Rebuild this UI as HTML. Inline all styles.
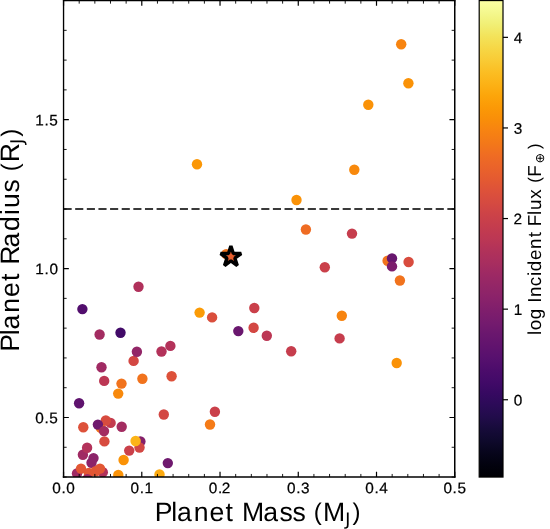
<!DOCTYPE html>
<html><head><meta charset="utf-8"><title>Planet Mass vs Radius</title>
<style>
html,body{margin:0;padding:0;background:#fff;}
body{width:550px;height:529px;overflow:hidden;font-family:"Liberation Sans",sans-serif;}
svg{display:block;will-change:transform;}
text{font-family:"Liberation Sans",sans-serif;fill:#000;text-rendering:geometricPrecision;}
</style></head><body>
<svg width="550" height="529" viewBox="0 0 550 529" role="img" aria-label="Planet radius versus planet mass scatter plot coloured by log incident flux">
<rect x="0" y="0" width="550" height="529" fill="#ffffff"/>
<defs>
<clipPath id="ax"><rect x="63.55" y="0.55" width="391.20" height="476.50"/></clipPath>
<linearGradient id="inf" x1="0" y1="1" x2="0" y2="0">
<stop offset="0.0000" stop-color="#000004"/>
<stop offset="0.0250" stop-color="#02020e"/>
<stop offset="0.0500" stop-color="#07051b"/>
<stop offset="0.0750" stop-color="#0e092b"/>
<stop offset="0.1000" stop-color="#160b39"/>
<stop offset="0.1250" stop-color="#210c4a"/>
<stop offset="0.1500" stop-color="#2b0b57"/>
<stop offset="0.1750" stop-color="#360961"/>
<stop offset="0.2000" stop-color="#420a68"/>
<stop offset="0.2250" stop-color="#4c0c6b"/>
<stop offset="0.2500" stop-color="#57106e"/>
<stop offset="0.2750" stop-color="#61136e"/>
<stop offset="0.3000" stop-color="#6a176e"/>
<stop offset="0.3250" stop-color="#751b6e"/>
<stop offset="0.3500" stop-color="#7f1e6c"/>
<stop offset="0.3750" stop-color="#8a226a"/>
<stop offset="0.4000" stop-color="#932667"/>
<stop offset="0.4250" stop-color="#9d2964"/>
<stop offset="0.4500" stop-color="#a82e5f"/>
<stop offset="0.4750" stop-color="#b1325a"/>
<stop offset="0.5000" stop-color="#bc3754"/>
<stop offset="0.5250" stop-color="#c43c4e"/>
<stop offset="0.5500" stop-color="#cc4248"/>
<stop offset="0.5750" stop-color="#d54a41"/>
<stop offset="0.6000" stop-color="#dd513a"/>
<stop offset="0.6250" stop-color="#e45a31"/>
<stop offset="0.6500" stop-color="#ea632a"/>
<stop offset="0.6750" stop-color="#ef6c23"/>
<stop offset="0.7000" stop-color="#f37819"/>
<stop offset="0.7250" stop-color="#f78212"/>
<stop offset="0.7500" stop-color="#f98e09"/>
<stop offset="0.7750" stop-color="#fb9906"/>
<stop offset="0.8000" stop-color="#fca50a"/>
<stop offset="0.8250" stop-color="#fcb216"/>
<stop offset="0.8500" stop-color="#fbbe23"/>
<stop offset="0.8750" stop-color="#f9cb35"/>
<stop offset="0.9000" stop-color="#f6d746"/>
<stop offset="0.9250" stop-color="#f3e35a"/>
<stop offset="0.9500" stop-color="#f1ef75"/>
<stop offset="0.9750" stop-color="#f4f88e"/>
<stop offset="1.0000" stop-color="#fcffa4"/>
</linearGradient>
</defs>
<g clip-path="url(#ax)">
<circle cx="77.0" cy="473.4" r="5.20" fill="#a02a63"/>
<circle cx="102.8" cy="472.3" r="5.20" fill="#b0315b"/>
<circle cx="91.5" cy="462.7" r="5.20" fill="#8c2369"/>
<circle cx="93.5" cy="458.1" r="5.20" fill="#8c2369"/>
<circle cx="88.8" cy="472.9" r="5.20" fill="#e25734"/>
<circle cx="95.7" cy="471.3" r="5.20" fill="#e25734"/>
<circle cx="100.0" cy="468.6" r="5.20" fill="#e25734"/>
<circle cx="81.0" cy="468.6" r="5.20" fill="#e25734"/>
<circle cx="87.3" cy="479.2" r="5.20" fill="#a02a63"/>
<circle cx="82.9" cy="454.7" r="5.20" fill="#a02a63"/>
<circle cx="87.1" cy="447.8" r="5.20" fill="#b3325a"/>
<circle cx="118.3" cy="474.9" r="5.20" fill="#fa9207"/>
<circle cx="159.5" cy="474.5" r="5.20" fill="#fcaa0f"/>
<circle cx="123.6" cy="460.0" r="5.20" fill="#fa9207"/>
<circle cx="129.2" cy="450.6" r="5.20" fill="#ca404a"/>
<circle cx="140.4" cy="441.5" r="5.20" fill="#84206b"/>
<circle cx="139.5" cy="447.5" r="5.20" fill="#d34743"/>
<circle cx="135.6" cy="441.0" r="5.20" fill="#fcb418"/>
<circle cx="104.4" cy="441.4" r="5.20" fill="#d74b3f"/>
<circle cx="100.8" cy="427.9" r="5.20" fill="#f1731d"/>
<circle cx="110.6" cy="422.9" r="5.20" fill="#c33b4f"/>
<circle cx="105.8" cy="420.5" r="5.20" fill="#d74b3f"/>
<circle cx="97.9" cy="424.6" r="5.20" fill="#6f196e"/>
<circle cx="104.0" cy="431.1" r="5.20" fill="#a32c61"/>
<circle cx="121.7" cy="426.8" r="5.20" fill="#a32c61"/>
<circle cx="83.3" cy="427.3" r="5.20" fill="#dd513a"/>
<circle cx="79.1" cy="403.3" r="5.20" fill="#5f136e"/>
<circle cx="163.8" cy="414.5" r="5.20" fill="#d34743"/>
<circle cx="99.6" cy="334.5" r="5.20" fill="#a32c61"/>
<circle cx="120.5" cy="332.7" r="5.20" fill="#420a68"/>
<circle cx="133.6" cy="360.9" r="5.20" fill="#d34743"/>
<circle cx="136.9" cy="351.8" r="5.20" fill="#932667"/>
<circle cx="101.5" cy="367.3" r="5.20" fill="#a02a63"/>
<circle cx="104.2" cy="380.9" r="5.20" fill="#bc3754"/>
<circle cx="121.5" cy="383.6" r="5.20" fill="#f1731d"/>
<circle cx="142.4" cy="378.7" r="5.20" fill="#f1731d"/>
<circle cx="118.2" cy="393.6" r="5.20" fill="#f8890c"/>
<circle cx="82.4" cy="309.1" r="5.20" fill="#520e6d"/>
<circle cx="138.5" cy="286.7" r="5.20" fill="#b0315b"/>
<circle cx="214.9" cy="411.8" r="5.20" fill="#ca404a"/>
<circle cx="210.0" cy="424.5" r="5.20" fill="#f57b17"/>
<circle cx="167.8" cy="463.1" r="5.20" fill="#6f196e"/>
<circle cx="199.6" cy="312.6" r="5.20" fill="#fb9b06"/>
<circle cx="212.1" cy="317.4" r="5.20" fill="#da4e3c"/>
<circle cx="254.3" cy="308.0" r="5.20" fill="#ca404a"/>
<circle cx="253.6" cy="327.8" r="5.20" fill="#d34743"/>
<circle cx="238.3" cy="331.1" r="5.20" fill="#6a176e"/>
<circle cx="266.8" cy="335.7" r="5.20" fill="#bc3754"/>
<circle cx="170.4" cy="345.9" r="5.20" fill="#b3325a"/>
<circle cx="161.5" cy="351.5" r="5.20" fill="#b3325a"/>
<circle cx="171.6" cy="376.2" r="5.20" fill="#dd513a"/>
<circle cx="291.2" cy="351.2" r="5.20" fill="#c63d4d"/>
<circle cx="296.5" cy="200.0" r="5.20" fill="#fa9207"/>
<circle cx="305.9" cy="229.5" r="5.20" fill="#ef6c23"/>
<circle cx="352.0" cy="233.6" r="5.20" fill="#c63d4d"/>
<circle cx="324.8" cy="267.3" r="5.20" fill="#ca404a"/>
<circle cx="387.6" cy="260.8" r="5.20" fill="#f1731d"/>
<circle cx="392.0" cy="258.4" r="5.20" fill="#67166e"/>
<circle cx="392.0" cy="266.4" r="5.20" fill="#7c1d6d"/>
<circle cx="408.6" cy="262.0" r="5.20" fill="#d84c3e"/>
<circle cx="399.9" cy="280.5" r="5.20" fill="#f1731d"/>
<circle cx="341.8" cy="315.7" r="5.20" fill="#f78410"/>
<circle cx="339.6" cy="338.4" r="5.20" fill="#c63d4d"/>
<circle cx="396.7" cy="363.0" r="5.20" fill="#fa9207"/>
<circle cx="401.2" cy="44.2" r="5.20" fill="#f78410"/>
<circle cx="408.4" cy="83.2" r="5.20" fill="#fa9207"/>
<circle cx="368.3" cy="104.7" r="5.20" fill="#fa9207"/>
<circle cx="354.3" cy="169.8" r="5.20" fill="#f8890c"/>
<circle cx="197.0" cy="164.2" r="5.20" fill="#fb9706"/>
<circle cx="226.2" cy="254.1" r="5.20" fill="#f1731d"/>
<line x1="63.55" y1="209.02" x2="454.75" y2="209.02" stroke="#3a3a3a" stroke-width="2.2" stroke-dasharray="8.12 3.51"/>
<polygon points="230.90,246.00 228.46,253.50 220.58,253.50 226.96,258.13 224.52,265.63 230.90,260.99 237.28,265.63 234.84,258.13 241.22,253.50 233.34,253.50" fill="#e75e2e" stroke="#000" stroke-width="3.40" stroke-linejoin="bevel"/>
</g>
<g stroke="#000" fill="none"><path d="M63.55 477.05v-5.30M63.55 0.55v5.30" stroke-width="1.20"/><path d="M79.20 477.05v-3.10M79.20 0.55v3.10" stroke-width="0.90"/><path d="M94.85 477.05v-3.10M94.85 0.55v3.10" stroke-width="0.90"/><path d="M110.49 477.05v-3.10M110.49 0.55v3.10" stroke-width="0.90"/><path d="M126.14 477.05v-3.10M126.14 0.55v3.10" stroke-width="0.90"/><path d="M141.79 477.05v-5.30M141.79 0.55v5.30" stroke-width="1.20"/><path d="M157.44 477.05v-3.10M157.44 0.55v3.10" stroke-width="0.90"/><path d="M173.09 477.05v-3.10M173.09 0.55v3.10" stroke-width="0.90"/><path d="M188.73 477.05v-3.10M188.73 0.55v3.10" stroke-width="0.90"/><path d="M204.38 477.05v-3.10M204.38 0.55v3.10" stroke-width="0.90"/><path d="M220.03 477.05v-5.30M220.03 0.55v5.30" stroke-width="1.20"/><path d="M235.68 477.05v-3.10M235.68 0.55v3.10" stroke-width="0.90"/><path d="M251.33 477.05v-3.10M251.33 0.55v3.10" stroke-width="0.90"/><path d="M266.97 477.05v-3.10M266.97 0.55v3.10" stroke-width="0.90"/><path d="M282.62 477.05v-3.10M282.62 0.55v3.10" stroke-width="0.90"/><path d="M298.27 477.05v-5.30M298.27 0.55v5.30" stroke-width="1.20"/><path d="M313.92 477.05v-3.10M313.92 0.55v3.10" stroke-width="0.90"/><path d="M329.57 477.05v-3.10M329.57 0.55v3.10" stroke-width="0.90"/><path d="M345.21 477.05v-3.10M345.21 0.55v3.10" stroke-width="0.90"/><path d="M360.86 477.05v-3.10M360.86 0.55v3.10" stroke-width="0.90"/><path d="M376.51 477.05v-5.30M376.51 0.55v5.30" stroke-width="1.20"/><path d="M392.16 477.05v-3.10M392.16 0.55v3.10" stroke-width="0.90"/><path d="M407.81 477.05v-3.10M407.81 0.55v3.10" stroke-width="0.90"/><path d="M423.45 477.05v-3.10M423.45 0.55v3.10" stroke-width="0.90"/><path d="M439.10 477.05v-3.10M439.10 0.55v3.10" stroke-width="0.90"/><path d="M454.75 477.05v-5.30M454.75 0.55v5.30" stroke-width="1.20"/><path d="M63.55 477.05h3.10M454.75 477.05h-3.10" stroke-width="0.90"/><path d="M63.55 447.27h3.10M454.75 447.27h-3.10" stroke-width="0.90"/><path d="M63.55 417.49h5.30M454.75 417.49h-5.30" stroke-width="1.20"/><path d="M63.55 387.71h3.10M454.75 387.71h-3.10" stroke-width="0.90"/><path d="M63.55 357.93h3.10M454.75 357.93h-3.10" stroke-width="0.90"/><path d="M63.55 328.14h3.10M454.75 328.14h-3.10" stroke-width="0.90"/><path d="M63.55 298.36h3.10M454.75 298.36h-3.10" stroke-width="0.90"/><path d="M63.55 268.58h5.30M454.75 268.58h-5.30" stroke-width="1.20"/><path d="M63.55 238.80h3.10M454.75 238.80h-3.10" stroke-width="0.90"/><path d="M63.55 209.02h3.10M454.75 209.02h-3.10" stroke-width="0.90"/><path d="M63.55 179.24h3.10M454.75 179.24h-3.10" stroke-width="0.90"/><path d="M63.55 149.46h3.10M454.75 149.46h-3.10" stroke-width="0.90"/><path d="M63.55 119.67h5.30M454.75 119.67h-5.30" stroke-width="1.20"/><path d="M63.55 89.89h3.10M454.75 89.89h-3.10" stroke-width="0.90"/><path d="M63.55 60.11h3.10M454.75 60.11h-3.10" stroke-width="0.90"/><path d="M63.55 30.33h3.10M454.75 30.33h-3.10" stroke-width="0.90"/><path d="M63.55 0.55h3.10M454.75 0.55h-3.10" stroke-width="0.90"/></g>
<g stroke="#000" stroke-linecap="square">
<line x1="63.55" y1="0.55" x2="63.55" y2="477.05" stroke-width="1.35"/>
<line x1="454.75" y1="0.55" x2="454.75" y2="477.05" stroke-width="1.5"/>
<line x1="63.55" y1="0.55" x2="454.75" y2="0.55" stroke-width="1.3"/>
<line x1="63.55" y1="477.05" x2="454.75" y2="477.05" stroke-width="1.5"/>
</g>
<rect x="479.20" y="0.55" width="23.80" height="476.50" fill="url(#inf)" stroke="#000" stroke-width="1.20"/>
<line x1="503.00" y1="399.75" x2="508.00" y2="399.75" stroke="#000" stroke-width="1.2"/>
<line x1="503.00" y1="309.15" x2="508.00" y2="309.15" stroke="#000" stroke-width="1.2"/>
<line x1="503.00" y1="218.55" x2="508.00" y2="218.55" stroke="#000" stroke-width="1.2"/>
<line x1="503.00" y1="127.95" x2="508.00" y2="127.95" stroke="#000" stroke-width="1.2"/>
<line x1="503.00" y1="37.35" x2="508.00" y2="37.35" stroke="#000" stroke-width="1.2"/>
<text transform="translate(51.81 493.30) rotate(0.03)" x="0.42 9.61 14.52" y="0" font-size="15.36" stroke="#000" stroke-width="0.22">0.0</text>
<text transform="translate(130.05 493.30) rotate(0.03)" x="0.42 9.61 14.43" y="0" font-size="15.36" stroke="#000" stroke-width="0.22">0.1</text>
<text transform="translate(208.29 493.30) rotate(0.03)" x="0.42 9.61 13.58" y="0" font-size="15.36" stroke="#000" stroke-width="0.22">0.2</text>
<text transform="translate(286.53 493.30) rotate(0.03)" x="0.42 9.61 14.54" y="0" font-size="15.36" stroke="#000" stroke-width="0.22">0.3</text>
<text transform="translate(364.77 493.30) rotate(0.03)" x="0.42 9.61 14.51" y="0" font-size="15.36" stroke="#000" stroke-width="0.22">0.4</text>
<text transform="translate(443.01 493.30) rotate(0.03)" x="0.42 9.61 14.45" y="0" font-size="15.36" stroke="#000" stroke-width="0.22">0.5</text>
<text transform="translate(34.90 423.24) rotate(0.03)" x="0.42 9.61 14.45" y="0" font-size="15.36" stroke="#000" stroke-width="0.22">0.5</text>
<text transform="translate(34.90 274.33) rotate(0.03)" x="0.34 9.61 14.52" y="0" font-size="15.36" stroke="#000" stroke-width="0.22">1.0</text>
<text transform="translate(34.90 125.43) rotate(0.03)" x="0.34 9.61 14.45" y="0" font-size="15.36" stroke="#000" stroke-width="0.22">1.5</text>
<text transform="translate(513.34 405.55) rotate(0.03)" x="0.42" y="0" font-size="15.36" stroke="#000" stroke-width="0.22">0</text>
<text transform="translate(513.34 314.95) rotate(0.03)" x="0.34" y="0" font-size="15.36" stroke="#000" stroke-width="0.22">1</text>
<text transform="translate(513.34 224.35) rotate(0.03)" x="0.23" y="0" font-size="15.36" stroke="#000" stroke-width="0.22">2</text>
<text transform="translate(513.34 133.75) rotate(0.03)" x="0.45" y="0" font-size="15.36" stroke="#000" stroke-width="0.22">3</text>
<text transform="translate(513.34 43.15) rotate(0.03)" x="0.42" y="0" font-size="15.36" stroke="#000" stroke-width="0.22">4</text>
<g transform="translate(155.60 521.15)">
<text x="-0.89 15.67 21.46 38.11 53.80 70.03 78.71 86.45 107.69 123.81 136.89 149.91 167.44" y="0" font-size="26.62">Planet Mass M</text>
<text x="158.19" y="-1.16" font-size="24.00">(</text>
<text x="196.96" y="-1.16" font-size="24.00">)</text>
<path transform="translate(189.59 4.12)" d="M1.72 -12.81L3.46 -12.81L3.46 -0.89Q3.46 1.43 2.58 2.47Q1.70 3.52 -0.25 3.52L-0.91 3.52L-0.91 2.06L-0.37 2.06Q0.78 2.06 1.25 1.41Q1.72 0.77 1.72 -0.89L1.72 -12.81Z" fill="#000"/>
</g>
<g transform="translate(18.90 350.90) rotate(-90)">
<text x="-0.89 15.67 21.46 38.11 53.80 70.03 78.71 86.21 103.48 119.95 136.01 142.95 158.42 171.44 188.73" y="0" font-size="26.62">Planet Radius R</text>
<text x="179.72" y="-1.16" font-size="24.00">(</text>
<text x="214.27" y="-1.16" font-size="24.00">)</text>
<path transform="translate(206.90 4.12)" d="M1.72 -12.81L3.46 -12.81L3.46 -0.89Q3.46 1.43 2.58 2.47Q1.70 3.52 -0.25 3.52L-0.91 3.52L-0.91 2.06L-0.37 2.06Q0.78 2.06 1.25 1.41Q1.72 0.77 1.72 -0.89L1.72 -12.81Z" fill="#000"/>
</g>
<g transform="translate(541.10 335.30) rotate(-90)">
<text x="0.37 5.12 16.06 27.02 32.65 38.32 49.08 59.23 64.08 75.30 86.38 97.99 104.12 109.07 120.31 125.22 136.61 146.60 158.46" y="0" font-size="18.79">log Incident Flux F</text>
<text x="152.44" y="-0.67" font-size="16.94">(</text>
<text x="186.29" y="-0.67" font-size="16.94">)</text>
<path transform="translate(171.93 2.91)" d="M6.41 -6.83Q5.85 -7.06 5.20 -7.06Q4.55 -7.06 3.99 -6.83Q3.43 -6.59 2.97 -6.13Q2.50 -5.66 2.27 -5.11Q2.04 -4.55 2.04 -3.89Q2.04 -3.25 2.27 -2.69Q2.50 -2.13 2.97 -1.67Q3.43 -1.21 3.99 -0.97Q4.55 -0.73 5.20 -0.73Q5.85 -0.73 6.41 -0.97Q6.97 -1.21 7.43 -1.67Q7.89 -2.13 8.12 -2.69Q8.35 -3.25 8.35 -3.89Q8.35 -4.55 8.12 -5.11Q7.89 -5.66 7.43 -6.13Q6.97 -6.59 6.41 -6.83ZM3.64 -7.67Q4.36 -7.97 5.20 -7.97Q6.03 -7.97 6.75 -7.67Q7.48 -7.37 8.07 -6.77Q8.67 -6.17 8.97 -5.45Q9.26 -4.74 9.26 -3.89Q9.26 -3.06 8.97 -2.34Q8.67 -1.62 8.07 -1.02Q7.48 -0.43 6.75 -0.13Q6.03 0.18 5.20 0.18Q4.36 0.18 3.64 -0.13Q2.92 -0.43 2.33 -1.02Q1.73 -1.62 1.43 -2.34Q1.13 -3.06 1.13 -3.89Q1.13 -4.74 1.43 -5.45Q1.73 -6.17 2.33 -6.77Q2.92 -7.37 3.64 -7.67ZM5.71 -6.57L5.71 -4.40L7.87 -4.40L7.87 -3.38L5.71 -3.38L5.71 -1.21L4.68 -1.21L4.68 -3.38L2.53 -3.38L2.53 -4.40L4.68 -4.40L4.68 -6.57L5.71 -6.57Z" fill="#000"/>
</g>
</svg>
</body></html>
